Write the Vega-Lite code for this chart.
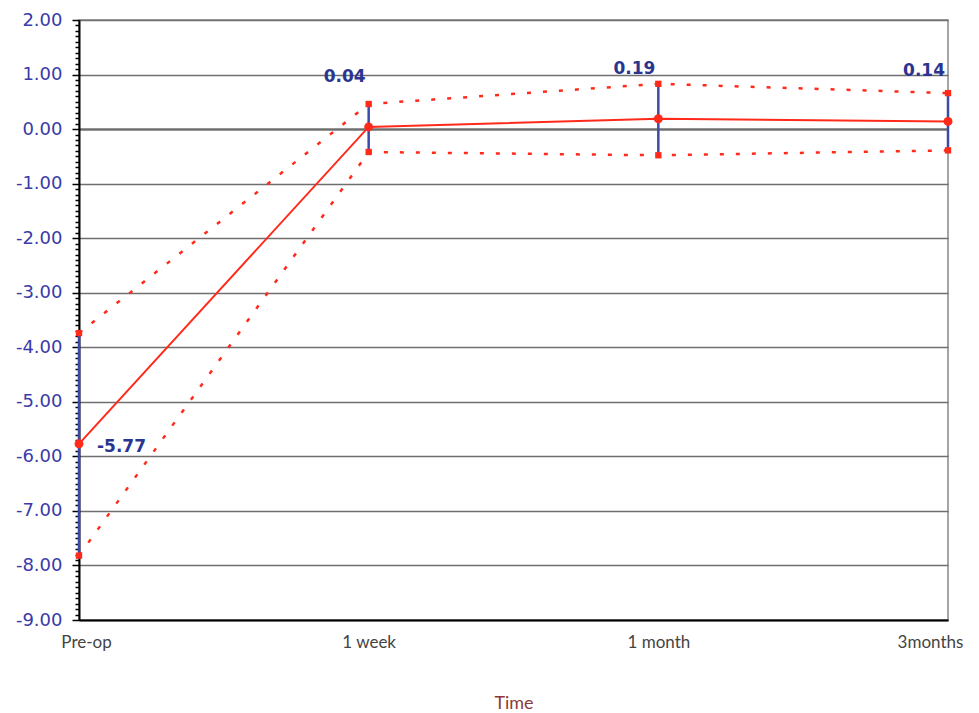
{
  "$schema": "https://vega.github.io/schema/vega-lite/v6.json",
  "autosize": "none",
  "width": 869,
  "height": 600,
  "padding": {"left": 79, "top": 20, "right": 31, "bottom": 93},
  "background": "white",
  "config": {"view": {"stroke": "#888", "strokeWidth": 1.5},
    "locale": {"number": {"decimal": ".", "thousands": ",", "grouping": [3], "currency": ["$", ""], "minus": "-"}}},
  "data": {"values": [
    {"time": "Pre-op", "mean": -5.77, "lower": -7.82, "upper": -3.74},
    {"time": "1 week", "mean": 0.04, "lower": -0.42, "upper": 0.46},
    {"time": "1 month", "mean": 0.19, "lower": -0.48, "upper": 0.83},
    {"time": "3months", "mean": 0.14, "lower": -0.39, "upper": 0.66}
  ]},
  "encoding": {
    "x": {"field": "time", "type": "ordinal", "sort": null,
      "scale": {"type": "point", "padding": 0},
      "axis": {"title": "Time", "titleColor": "#8b3a3a", "titleFont": "Lato", "titleFontSize": 18, "titleFontWeight": "normal", "titlePadding": 44,
        "labelAngle": 0, "labelFont": "Lato", "labelFontSize": 17, "labelColor": "#444", "labelPadding": 14,
        "ticks": false, "domainColor": "#000", "domainWidth": 2, "grid": false, "zindex": 0,
        "labelOffset": {"condition": [{"test": "datum.value == 'Pre-op'", "value": 7}, {"test": "datum.value == '3months'", "value": -18}], "value": 0}}}
  },
  "layer": [
    {
      "mark": {"type": "rule", "color": "#3c4aa8", "strokeWidth": 2.5},
      "encoding": {
        "y": {"field": "lower", "type": "quantitative",
          "scale": {"domain": [-9, 2], "nice": false, "zero": false},
          "axis": {"title": null, "tickCount": 500, "zindex": 0,
            "values": [-9,-8.9,-8.8,-8.7,-8.6,-8.5,-8.4,-8.3,-8.2,-8.1,-8,-7.9,-7.8,-7.7,-7.6,-7.5,-7.4,-7.3,-7.2,-7.1,-7,-6.9,-6.8,-6.7,-6.6,-6.5,-6.4,-6.3,-6.2,-6.1,-6,-5.9,-5.8,-5.7,-5.6,-5.5,-5.4,-5.3,-5.2,-5.1,-5,-4.9,-4.8,-4.7,-4.6,-4.5,-4.4,-4.3,-4.2,-4.1,-4,-3.9,-3.8,-3.7,-3.6,-3.5,-3.4,-3.3,-3.2,-3.1,-3,-2.9,-2.8,-2.7,-2.6,-2.5,-2.4,-2.3,-2.2,-2.1,-2,-1.9,-1.8,-1.7,-1.6,-1.5,-1.4,-1.3,-1.2,-1.1,-1,-0.9,-0.8,-0.7,-0.6,-0.5,-0.4,-0.3,-0.2,-0.1,0,0.1,0.2,0.3,0.4,0.5,0.6,0.7,0.8,0.9,1,1.1,1.2,1.3,1.4,1.5,1.6,1.7,1.8,1.9,2],
            "labelExpr": "abs(datum.value - round(datum.value)) < 0.001 ? format(datum.value, '.2f') : ''",
            "labelOverlap": false, "labelFont": "DejaVu Sans", "labelFontSize": 18, "labelColor": "#3a3aa8", "labelPadding": 10,
            "tickColor": "#000", "tickWidth": 1.5,
            "tickSize": {"condition": {"test": "abs(datum.value - round(datum.value)) < 0.001", "value": 7}, "value": 4},
            "grid": true, "gridColor": "#6f6f6f",
            "gridOpacity": {"condition": {"test": "abs(datum.value - round(datum.value)) < 0.001", "value": 1}, "value": 0},
            "gridWidth": {"condition": {"test": "abs(datum.value) < 0.001", "value": 2.5}, "value": 1.5},
            "domainColor": "#000", "domainWidth": 2}},
        "y2": {"field": "upper"}
      }
    },
    {
      "mark": {"type": "line", "color": "#ff2a1a", "strokeWidth": 2},
      "encoding": {"y": {"field": "mean", "type": "quantitative"}}
    },
    {
      "mark": {"type": "line", "color": "#ff2a1a", "strokeWidth": 2.5, "strokeDash": [4, 12]},
      "encoding": {"y": {"field": "upper", "type": "quantitative"}}
    },
    {
      "mark": {"type": "line", "color": "#ff2a1a", "strokeWidth": 2.5, "strokeDash": [4, 12]},
      "encoding": {"y": {"field": "lower", "type": "quantitative"}}
    },
    {
      "mark": {"type": "point", "shape": "square", "filled": true, "color": "#ff2a1a", "size": 40, "opacity": 1},
      "encoding": {"y": {"field": "upper", "type": "quantitative"}}
    },
    {
      "mark": {"type": "point", "shape": "square", "filled": true, "color": "#ff2a1a", "size": 40, "opacity": 1},
      "encoding": {"y": {"field": "lower", "type": "quantitative"}}
    },
    {
      "mark": {"type": "point", "shape": "circle", "filled": true, "color": "#ff2a1a", "size": 80, "opacity": 1},
      "encoding": {"y": {"field": "mean", "type": "quantitative"}}
    },
    {
      "transform": [{"filter": "datum.mean >= 0"}],
      "mark": {"type": "text", "align": "right", "baseline": "middle", "dx": -3, "dy": -50, "font": "DejaVu Sans", "fontSize": 17, "fontWeight": "bold", "color": "#2b3590"},
      "encoding": {"y": {"field": "mean", "type": "quantitative"}, "text": {"field": "mean", "type": "quantitative", "format": ".2f"}}
    },
    {
      "transform": [{"filter": "datum.mean < 0"}],
      "mark": {"type": "text", "align": "left", "baseline": "middle", "dx": 18, "dy": 3, "font": "DejaVu Sans", "fontSize": 17, "fontWeight": "bold", "color": "#2b3590"},
      "encoding": {"y": {"field": "mean", "type": "quantitative"}, "text": {"field": "mean", "type": "quantitative", "format": ".2f"}}
    }
  ]
}
